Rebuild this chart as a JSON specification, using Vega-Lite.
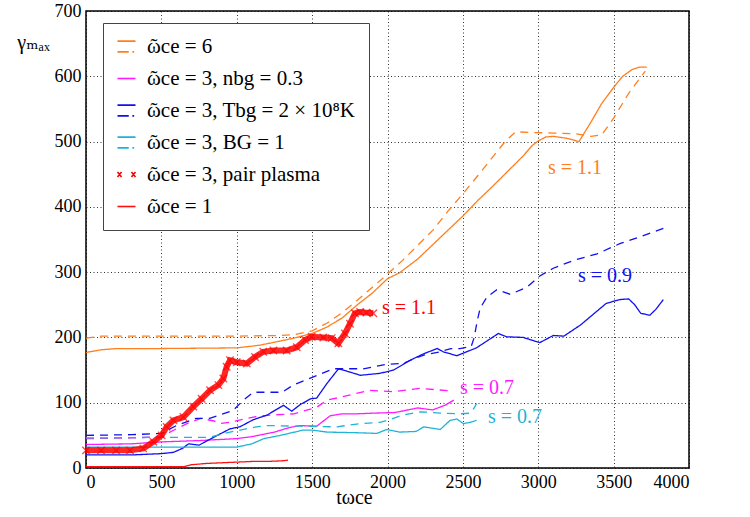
{
  "$schema": "https://vega.github.io/schema/vega-lite/v6.json",
  "width": 603,
  "height": 457,
  "autosize": {"type": "none"},
  "padding": {"left": 86, "top": 11, "right": 61, "bottom": 49},
  "config": {
    "font": "Times New Roman, Liberation Serif, DejaVu Serif, serif",
    "view": {"stroke": "black", "strokeWidth": 1.5},
    "axis": {
      "labelFont": "Times New Roman, Liberation Serif, DejaVu Serif, serif", "labelFontSize": 18, "labelColor": "black",
      "titleFont": "Times New Roman, Liberation Serif, DejaVu Serif, serif", "titleFontWeight": "normal", "titleFontSize": 20, "titleColor": "black",
      "grid": true, "gridColor": "black", "gridDash": [1, 2.5], "gridOpacity": 0.8, "gridWidth": 1,
      "ticks": false, "domain": false, "labelPadding": 5, "format": "d"
    }
  },
  "datasets": {
    "lines": [
      {"s":"w6","d":"solid","t":0,"g":177},{"s":"w6","d":"solid","t":100,"g":181},{"s":"w6","d":"solid","t":200,"g":183},{"s":"w6","d":"solid","t":500,"g":183},{"s":"w6","d":"solid","t":1000,"g":184},{"s":"w6","d":"solid","t":1150,"g":188},{"s":"w6","d":"solid","t":1300,"g":195},{"s":"w6","d":"solid","t":1400,"g":200},{"s":"w6","d":"solid","t":1500,"g":206},{"s":"w6","d":"solid","t":1600,"g":216},{"s":"w6","d":"solid","t":1700,"g":230},{"s":"w6","d":"solid","t":1800,"g":250},{"s":"w6","d":"solid","t":1900,"g":268},{"s":"w6","d":"solid","t":2000,"g":290},{"s":"w6","d":"solid","t":2080,"g":299},{"s":"w6","d":"solid","t":2200,"g":320},{"s":"w6","d":"solid","t":2300,"g":342},{"s":"w6","d":"solid","t":2400,"g":364},{"s":"w6","d":"solid","t":2500,"g":386},{"s":"w6","d":"solid","t":2600,"g":410},{"s":"w6","d":"solid","t":2700,"g":432},{"s":"w6","d":"solid","t":2800,"g":455},{"s":"w6","d":"solid","t":2900,"g":478},{"s":"w6","d":"solid","t":2960,"g":494},{"s":"w6","d":"solid","t":3000,"g":501},{"s":"w6","d":"solid","t":3050,"g":507},{"s":"w6","d":"solid","t":3100,"g":508},{"s":"w6","d":"solid","t":3190,"g":505},{"s":"w6","d":"solid","t":3270,"g":500},{"s":"w6","d":"solid","t":3350,"g":530},{"s":"w6","d":"solid","t":3420,"g":558},{"s":"w6","d":"solid","t":3500,"g":583},{"s":"w6","d":"solid","t":3560,"g":600},{"s":"w6","d":"solid","t":3620,"g":610},{"s":"w6","d":"solid","t":3670,"g":614},{"s":"w6","d":"solid","t":3720,"g":614},
      {"s":"w6","d":"dashed","t":0,"g":199},{"s":"w6","d":"dashed","t":100,"g":202},{"s":"w6","d":"dashed","t":500,"g":202},{"s":"w6","d":"dashed","t":1000,"g":202},{"s":"w6","d":"dashed","t":1300,"g":203},{"s":"w6","d":"dashed","t":1400,"g":205},{"s":"w6","d":"dashed","t":1500,"g":210},{"s":"w6","d":"dashed","t":1600,"g":222},{"s":"w6","d":"dashed","t":1700,"g":238},{"s":"w6","d":"dashed","t":1800,"g":257},{"s":"w6","d":"dashed","t":1900,"g":277},{"s":"w6","d":"dashed","t":2000,"g":297},{"s":"w6","d":"dashed","t":2100,"g":318},{"s":"w6","d":"dashed","t":2200,"g":341},{"s":"w6","d":"dashed","t":2300,"g":364},{"s":"w6","d":"dashed","t":2400,"g":393},{"s":"w6","d":"dashed","t":2500,"g":420},{"s":"w6","d":"dashed","t":2600,"g":448},{"s":"w6","d":"dashed","t":2700,"g":477},{"s":"w6","d":"dashed","t":2780,"g":500},{"s":"w6","d":"dashed","t":2850,"g":515},{"s":"w6","d":"dashed","t":2950,"g":514},{"s":"w6","d":"dashed","t":3100,"g":513},{"s":"w6","d":"dashed","t":3250,"g":512},{"s":"w6","d":"dashed","t":3350,"g":508},{"s":"w6","d":"dashed","t":3420,"g":510},{"s":"w6","d":"dashed","t":3500,"g":536},{"s":"w6","d":"dashed","t":3600,"g":574},{"s":"w6","d":"dashed","t":3710,"g":608},
      {"s":"nbg","d":"solid","t":0,"g":36},{"s":"nbg","d":"solid","t":300,"g":37},{"s":"nbg","d":"solid","t":500,"g":40},{"s":"nbg","d":"solid","t":750,"g":42},{"s":"nbg","d":"solid","t":1000,"g":45},{"s":"nbg","d":"solid","t":1100,"g":48},{"s":"nbg","d":"solid","t":1250,"g":55},{"s":"nbg","d":"solid","t":1350,"g":62},{"s":"nbg","d":"solid","t":1420,"g":65},{"s":"nbg","d":"solid","t":1530,"g":64},{"s":"nbg","d":"solid","t":1620,"g":80},{"s":"nbg","d":"solid","t":1700,"g":83},{"s":"nbg","d":"solid","t":1800,"g":83},{"s":"nbg","d":"solid","t":1900,"g":84},{"s":"nbg","d":"solid","t":2050,"g":85},{"s":"nbg","d":"solid","t":2200,"g":92},{"s":"nbg","d":"solid","t":2300,"g":89},{"s":"nbg","d":"solid","t":2380,"g":96},{"s":"nbg","d":"solid","t":2440,"g":104},
      {"s":"nbg","d":"dashed","t":0,"g":45},{"s":"nbg","d":"dashed","t":300,"g":46},{"s":"nbg","d":"dashed","t":500,"g":48},{"s":"nbg","d":"dashed","t":600,"g":60},{"s":"nbg","d":"dashed","t":670,"g":68},{"s":"nbg","d":"dashed","t":760,"g":76},{"s":"nbg","d":"dashed","t":850,"g":72},{"s":"nbg","d":"dashed","t":890,"g":68},{"s":"nbg","d":"dashed","t":950,"g":70},{"s":"nbg","d":"dashed","t":1110,"g":78},{"s":"nbg","d":"dashed","t":1220,"g":81},{"s":"nbg","d":"dashed","t":1380,"g":83},{"s":"nbg","d":"dashed","t":1530,"g":93},{"s":"nbg","d":"dashed","t":1600,"g":104},{"s":"nbg","d":"dashed","t":1700,"g":109},{"s":"nbg","d":"dashed","t":1880,"g":119},{"s":"nbg","d":"dashed","t":2040,"g":117},{"s":"nbg","d":"dashed","t":2220,"g":122},{"s":"nbg","d":"dashed","t":2420,"g":118},
      {"s":"tbg","d":"solid","t":0,"g":20},{"s":"tbg","d":"solid","t":300,"g":20},{"s":"tbg","d":"solid","t":500,"g":22},{"s":"tbg","d":"solid","t":580,"g":24},{"s":"tbg","d":"solid","t":640,"g":30},{"s":"tbg","d":"solid","t":680,"g":37},{"s":"tbg","d":"solid","t":750,"g":35},{"s":"tbg","d":"solid","t":830,"g":45},{"s":"tbg","d":"solid","t":955,"g":60},{"s":"tbg","d":"solid","t":1020,"g":63},{"s":"tbg","d":"solid","t":1110,"g":74},{"s":"tbg","d":"solid","t":1200,"g":81},{"s":"tbg","d":"solid","t":1310,"g":96},{"s":"tbg","d":"solid","t":1365,"g":87},{"s":"tbg","d":"solid","t":1420,"g":97},{"s":"tbg","d":"solid","t":1490,"g":106},{"s":"tbg","d":"solid","t":1530,"g":107},{"s":"tbg","d":"solid","t":1600,"g":130},{"s":"tbg","d":"solid","t":1675,"g":152},{"s":"tbg","d":"solid","t":1750,"g":147},{"s":"tbg","d":"solid","t":1820,"g":142},{"s":"tbg","d":"solid","t":1950,"g":145},{"s":"tbg","d":"solid","t":2040,"g":150},{"s":"tbg","d":"solid","t":2150,"g":165},{"s":"tbg","d":"solid","t":2240,"g":175},{"s":"tbg","d":"solid","t":2330,"g":183},{"s":"tbg","d":"solid","t":2370,"g":178},{"s":"tbg","d":"solid","t":2460,"g":172},{"s":"tbg","d":"solid","t":2590,"g":184},{"s":"tbg","d":"solid","t":2735,"g":206},{"s":"tbg","d":"solid","t":2790,"g":201},{"s":"tbg","d":"solid","t":2900,"g":200},{"s":"tbg","d":"solid","t":3010,"g":192},{"s":"tbg","d":"solid","t":3100,"g":203},{"s":"tbg","d":"solid","t":3170,"g":202},{"s":"tbg","d":"solid","t":3280,"g":219},{"s":"tbg","d":"solid","t":3450,"g":252},{"s":"tbg","d":"solid","t":3540,"g":258},{"s":"tbg","d":"solid","t":3600,"g":259},{"s":"tbg","d":"solid","t":3640,"g":250},{"s":"tbg","d":"solid","t":3680,"g":237},{"s":"tbg","d":"solid","t":3740,"g":234},{"s":"tbg","d":"solid","t":3780,"g":243},{"s":"tbg","d":"solid","t":3830,"g":258},
      {"s":"tbg","d":"dashed","t":0,"g":50},{"s":"tbg","d":"dashed","t":300,"g":51},{"s":"tbg","d":"dashed","t":500,"g":53},{"s":"tbg","d":"dashed","t":600,"g":65},{"s":"tbg","d":"dashed","t":730,"g":76},{"s":"tbg","d":"dashed","t":820,"g":76},{"s":"tbg","d":"dashed","t":975,"g":88},{"s":"tbg","d":"dashed","t":1045,"g":104},{"s":"tbg","d":"dashed","t":1110,"g":116},{"s":"tbg","d":"dashed","t":1300,"g":116},{"s":"tbg","d":"dashed","t":1375,"g":127},{"s":"tbg","d":"dashed","t":1480,"g":137},{"s":"tbg","d":"dashed","t":1640,"g":152},{"s":"tbg","d":"dashed","t":1840,"g":152},{"s":"tbg","d":"dashed","t":2000,"g":159},{"s":"tbg","d":"dashed","t":2100,"g":160},{"s":"tbg","d":"dashed","t":2240,"g":173},{"s":"tbg","d":"dashed","t":2350,"g":178},{"s":"tbg","d":"dashed","t":2420,"g":183},{"s":"tbg","d":"dashed","t":2480,"g":183},{"s":"tbg","d":"dashed","t":2555,"g":186},{"s":"tbg","d":"dashed","t":2575,"g":200},{"s":"tbg","d":"dashed","t":2595,"g":225},{"s":"tbg","d":"dashed","t":2615,"g":245},{"s":"tbg","d":"dashed","t":2660,"g":262},{"s":"tbg","d":"dashed","t":2725,"g":273},{"s":"tbg","d":"dashed","t":2815,"g":266},{"s":"tbg","d":"dashed","t":2925,"g":277},{"s":"tbg","d":"dashed","t":3010,"g":294},{"s":"tbg","d":"dashed","t":3100,"g":306},{"s":"tbg","d":"dashed","t":3235,"g":318},{"s":"tbg","d":"dashed","t":3390,"g":328},{"s":"tbg","d":"dashed","t":3545,"g":344},{"s":"tbg","d":"dashed","t":3675,"g":354},{"s":"tbg","d":"dashed","t":3830,"g":367},
      {"s":"bg","d":"solid","t":0,"g":32},{"s":"bg","d":"solid","t":500,"g":32},{"s":"bg","d":"solid","t":1000,"g":32},{"s":"bg","d":"solid","t":1100,"g":37},{"s":"bg","d":"solid","t":1180,"g":45},{"s":"bg","d":"solid","t":1290,"g":50},{"s":"bg","d":"solid","t":1440,"g":58},{"s":"bg","d":"solid","t":1500,"g":58},{"s":"bg","d":"solid","t":1600,"g":55},{"s":"bg","d":"solid","t":1800,"g":54},{"s":"bg","d":"solid","t":1930,"g":53},{"s":"bg","d":"solid","t":1995,"g":59},{"s":"bg","d":"solid","t":2080,"g":55},{"s":"bg","d":"solid","t":2190,"g":56},{"s":"bg","d":"solid","t":2240,"g":63},{"s":"bg","d":"solid","t":2350,"g":59},{"s":"bg","d":"solid","t":2415,"g":73},{"s":"bg","d":"solid","t":2460,"g":75},{"s":"bg","d":"solid","t":2503,"g":68},{"s":"bg","d":"solid","t":2550,"g":70},{"s":"bg","d":"solid","t":2591,"g":73},
      {"s":"bg","d":"dashed","t":0,"g":46},{"s":"bg","d":"dashed","t":500,"g":47},{"s":"bg","d":"dashed","t":820,"g":47},{"s":"bg","d":"dashed","t":955,"g":55},{"s":"bg","d":"dashed","t":1130,"g":63},{"s":"bg","d":"dashed","t":1200,"g":65},{"s":"bg","d":"dashed","t":1420,"g":64},{"s":"bg","d":"dashed","t":1660,"g":63},{"s":"bg","d":"dashed","t":1820,"g":68},{"s":"bg","d":"dashed","t":1950,"g":70},{"s":"bg","d":"dashed","t":2000,"g":73},{"s":"bg","d":"dashed","t":2100,"g":81},{"s":"bg","d":"dashed","t":2220,"g":86},{"s":"bg","d":"dashed","t":2370,"g":84},{"s":"bg","d":"dashed","t":2480,"g":83},{"s":"bg","d":"dashed","t":2550,"g":84},{"s":"bg","d":"dashed","t":2575,"g":92},{"s":"bg","d":"dashed","t":2591,"g":99},
      {"s":"w1","d":"solid","t":0,"g":2},{"s":"w1","d":"solid","t":650,"g":2},{"s":"w1","d":"solid","t":700,"g":5},{"s":"w1","d":"solid","t":800,"g":7},{"s":"w1","d":"solid","t":900,"g":8},{"s":"w1","d":"solid","t":1000,"g":9},{"s":"w1","d":"solid","t":1100,"g":10},{"s":"w1","d":"solid","t":1200,"g":10},{"s":"w1","d":"solid","t":1300,"g":11},{"s":"w1","d":"solid","t":1340,"g":12}
    ],
    "pair": [
      {"t":0,"g":27},{"t":100,"g":27},{"t":200,"g":27},{"t":292,"g":27},{"t":380,"g":30},{"t":447,"g":40},{"t":502,"g":50},{"t":535,"g":63},{"t":580,"g":73},{"t":646,"g":78},{"t":712,"g":94},{"t":767,"g":106},{"t":823,"g":119},{"t":878,"g":127},{"t":911,"g":137},{"t":933,"g":155},{"t":955,"g":165},{"t":1000,"g":162},{"t":1066,"g":160},{"t":1121,"g":170},{"t":1176,"g":178},{"t":1243,"g":180},{"t":1331,"g":180},{"t":1398,"g":185},{"t":1453,"g":196},{"t":1497,"g":201},{"t":1574,"g":200},{"t":1630,"g":199},{"t":1674,"g":191},{"t":1718,"g":206},{"t":1751,"g":221},{"t":1784,"g":237},{"t":1818,"g":239},{"t":1860,"g":238},{"t":1906,"g":237}
    ],
    "notes": [
      {"s":"w6","t":3065,"g":459,"label":"s = 1.1"},
      {"s":"pair","t":1963,"g":245,"label":"s = 1.1"},
      {"s":"tbg","t":3264,"g":294,"label":"s = 0.9"},
      {"s":"nbg","t":2481,"g":122,"label":"s = 0.7"},
      {"s":"bg","t":2667,"g":78,"label":"s = 0.7"}
    ]
  },
  "encoding": {
    "x": {"field": "t", "type": "quantitative", "scale": {"domain": [0, 4000], "nice": false},
          "axis": {"values": [0,500,1000,1500,2000,2500,3000,3500,4000], "title": "tωce", "titleAlign": "center", "titleBaseline": "middle", "titleX": 268, "titleY": 29}},
    "y": {"field": "g", "type": "quantitative", "scale": {"domain": [0, 700], "nice": false},
          "axis": {"values": [0,100,200,300,400,500,600,700], "title": "γₘₐₓ", "titleAngle": 0, "titleAlign": "center", "titleBaseline": "middle", "titleX": -53, "titleY": 31}}
  },
  "layer": [
    {
      "data": {"name": "lines"},
      "mark": {"type": "line", "strokeWidth": 1.3},
      "encoding": {
        "color": {"field": "s", "type": "nominal",
          "scale": {"domain": ["w6","nbg","tbg","bg","pair","w1"], "range": ["#ff7f1e","#ff1aff","#1010f0","#1fb4d6","#ff0000","#ff1010"]},
          "legend": {
            "orient": "none", "legendX": 17, "legendY": 12, "title": null,
            "fillColor": "white", "strokeColor": "#444", "padding": 13,
            "labelFont": "Times New Roman, Liberation Serif, DejaVu Serif, serif", "labelFontSize": 21, "labelColor": "black", "labelLimit": 400,
            "symbolSize": 324, "symbolStrokeWidth": 1.6, "rowPadding": 10, "labelOffset": 10,
            "symbolType": "stroke",
            "labelExpr": "datum.value == 'w6' ? 'ῶce = 6' : datum.value == 'nbg' ? 'ῶce = 3, nbg = 0.3' : datum.value == 'tbg' ? 'ῶce = 3, Tbg = 2 × 10⁸K\u00a0\u00a0\u00a0' : datum.value == 'bg' ? 'ῶce = 3, BG = 1' : datum.value == 'pair' ? 'ῶce = 3, pair plasma' : 'ῶce = 1'",
            "encode": {"symbols": {"update": {"shape": {"signal": "datum.value == 'pair' ? 'M-1,-0.28L-0.55,0.28M-1,0.28L-0.55,-0.28M0.55,-0.28L1,0.28M0.55,0.28L1,-0.28' : (datum.value == 'w6' || datum.value == 'tbg' || datum.value == 'bg') ? 'M-1,-0.6L1,-0.6M-1,0.6L0.25,0.6M0.65,0.6L0.85,0.6' : 'M-1,0L1,0'"}}}}
          }
        },
        "strokeDash": {"field": "d", "type": "nominal",
          "scale": {"domain": ["solid","dashed"], "range": [[1,0],[8,6]]}, "legend": null}
      }
    },
    {
      "data": {"name": "pair"},
      "mark": {"type": "line", "color": "#ff0000", "strokeWidth": 6, "opacity": 0.85}
    },
    {
      "data": {"name": "pair"},
      "mark": {"type": "point", "shape": "M-1,-1L1,1M-1,1L1,-1", "size": 55, "color": "#ff0000", "strokeWidth": 1.4, "filled": false}
    },
    {
      "data": {"name": "notes"},
      "mark": {"type": "text", "align": "left", "baseline": "middle", "font": "Times New Roman, Liberation Serif, DejaVu Serif, serif", "fontSize": 20},
      "encoding": {
        "text": {"field": "label"},
        "color": {"field": "s", "type": "nominal"}
      }
    }
  ]
}
